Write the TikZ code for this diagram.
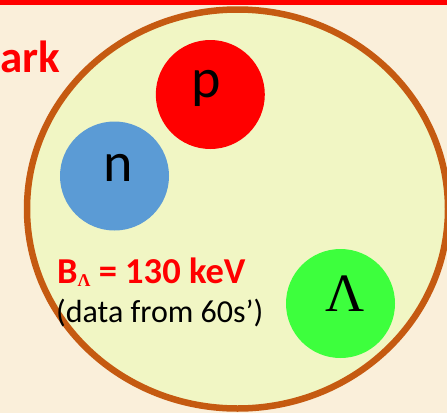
\documentclass[tikz,border=0pt]{standalone}
\usepackage{fontspec}
\setmainfont{Carlito}
\newfontfamily\lamfont{Liberation Serif}
\usepackage{tikz}
\usetikzlibrary{positioning}
\definecolor{nucParch}{HTML}{FAEFDA}
\definecolor{nucRed}{HTML}{FF0000}
\definecolor{nucRim}{HTML}{C55A11}
\definecolor{nucCore}{HTML}{F1F6C4}
\definecolor{nucBlue}{HTML}{5B9BD5}
\definecolor{nucGreen}{HTML}{3DFF3D}

\begin{document}
\begin{tikzpicture}[x=1pt,y=-1pt,
    particle/.style={circle,minimum size=109pt,inner sep=0pt},
    symbol/.style={anchor=base,inner sep=0pt,font=\fontsize{56}{56}\selectfont},
    caption/.style={anchor=base west,inner sep=0pt}]
  % page and top bar
  \fill[nucParch] (0,0) rectangle (447,413);
  \useasboundingbox (0,0) rectangle (447,413);
  \fill[nucRed] (0,0) rectangle (447,5);
  \node[caption,text=nucRed,font=\fontsize{45}{45}\selectfont\bfseries] (title) at (0,72) {ark};
  % hypernucleus
  \draw[draw=nucRim,fill=nucCore,line width=6.5pt] (237.5,209) ellipse [x radius=210.5,y radius=199.5];
  \node[particle,fill=nucRed]   (proton)  at (210.3,94.5) {};
  \node[particle,fill=nucBlue]  (neutron) at (114.5,176) {};
  \node[particle,fill=nucGreen] (lambda)  at (340.5,303.5) {};
  \node[symbol] (protonTag)  at (206,97) {p};
  \node[symbol] (neutronTag) at (118,181) {n};
  \node[symbol,font=\fontsize{54}{54}\selectfont\lamfont] (lambdaTag) at (345.5,311) {Λ};
  \node[caption,text=nucRed,font=\fontsize{36.5}{36.5}\selectfont\bfseries] (binding) at (57,283)
    {B\raisebox{-3pt}{\fontsize{18}{18}\selectfont\lamfont\bfseries Λ} = 130 keV};
  \node[caption,font=\fontsize{32}{32}\selectfont] (source) at (56,322) {(data from 60s’)};
\end{tikzpicture}
\end{document}
